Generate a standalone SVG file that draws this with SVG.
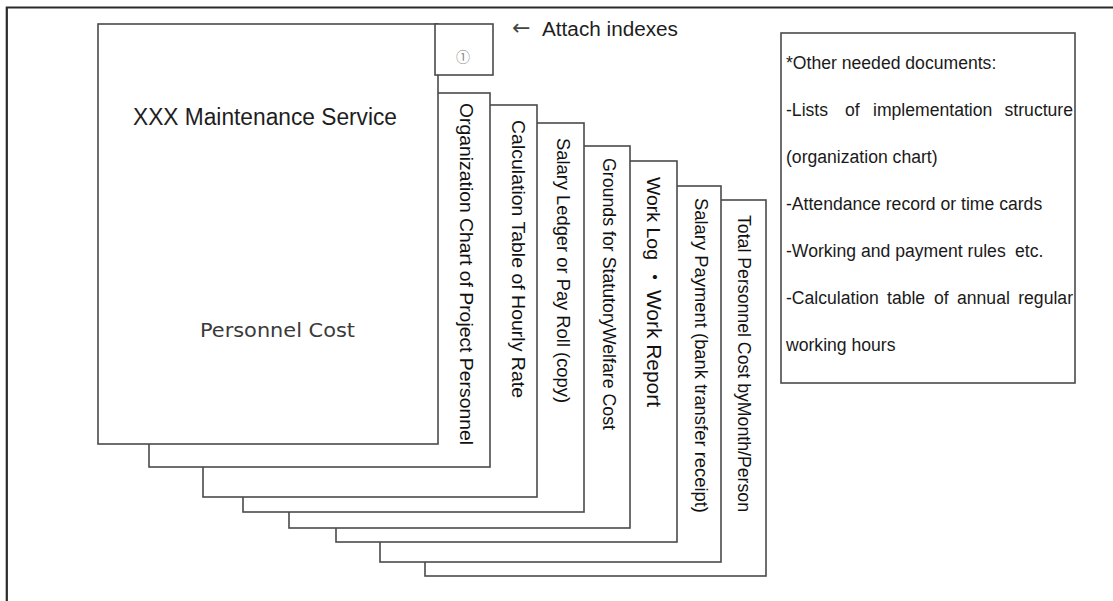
<svg xmlns="http://www.w3.org/2000/svg" width="1113" height="601" viewBox="0 0 1113 601">
<style>
.pg{fill:#fff;stroke:#4a4a4a;stroke-width:1.6}
.vt{font-family:"Liberation Sans",Arial,sans-serif;font-size:18.5px;fill:#111}
.bx{font-family:"Liberation Sans",Arial,sans-serif;font-size:17.6px;fill:#1a1a1a}
</style>
<rect width="1113" height="601" fill="#fff"/>
<g id="frame">
<path d="M6.8 601 V7.5 H1113" fill="none" stroke="#2a2a2a" stroke-width="2.2"/>
</g>
<g id="page-total">
<rect class="pg" x="425" y="200" width="341" height="376"/>
<text class="vt" transform="translate(737.5,0) rotate(90)" x="215" y="0" textLength="297" lengthAdjust="spacingAndGlyphs">Total Personnel Cost byMonth/Person</text>
</g>
<g id="page-payment">
<rect class="pg" x="380" y="186" width="341" height="376"/>
<text class="vt" transform="translate(694.5,0) rotate(90)" x="198" y="0" textLength="315" lengthAdjust="spacingAndGlyphs">Salary Payment (bank transfer receipt)</text>
</g>
<g id="page-worklog">
<rect class="pg" x="336" y="161" width="341" height="381"/>
<text class="vt" transform="translate(647,0) rotate(90)" y="0"><tspan x="177" textLength="83" lengthAdjust="spacingAndGlyphs">Work Log</tspan><tspan x="267" font-family="'Noto Sans CJK JP',sans-serif" font-size="20">・</tspan><tspan x="290" font-size="20.5" textLength="117" lengthAdjust="spacingAndGlyphs">Work Report</tspan></text>
</g>
<g id="page-grounds">
<rect class="pg" x="289" y="146" width="341" height="382"/>
<text class="vt" transform="translate(603,0) rotate(90)" x="158" y="0" textLength="272" lengthAdjust="spacingAndGlyphs">Grounds for StatutoryWelfare Cost</text>
</g>
<g id="page-ledger">
<rect class="pg" x="243" y="123" width="341" height="389"/>
<text class="vt" transform="translate(557,0) rotate(90)" x="138" y="0" textLength="265" lengthAdjust="spacingAndGlyphs">Salary Ledger or Pay Roll (copy)</text>
</g>
<g id="page-calc">
<rect class="pg" x="203" y="105" width="334" height="392"/>
<text class="vt" transform="translate(512,0) rotate(90)" x="120" y="0" font-size="19" textLength="278" lengthAdjust="spacingAndGlyphs">Calculation Table of Hourly Rate</text>
</g>
<g id="page-org">
<rect class="pg" x="149" y="93" width="341" height="374"/>
<text class="vt" transform="translate(459.5,0) rotate(90)" x="103" y="0" font-size="19" textLength="342" lengthAdjust="spacingAndGlyphs">Organization Chart of Project Personnel</text>
</g>
<g id="page-main">
<rect class="pg" x="98" y="24" width="340" height="420"/>
<text x="133" y="125" font-family="'Liberation Sans',Arial,sans-serif" font-size="23" fill="#1e1e1e" textLength="264" lengthAdjust="spacingAndGlyphs">XXX Maintenance Service</text>
<text x="200" y="336.5" font-family="'DejaVu Sans',Verdana,sans-serif" font-size="20" fill="#3a3a3a" textLength="155" lengthAdjust="spacingAndGlyphs">Personnel Cost</text>
</g>
<g id="index-tab">
<rect class="pg" x="435" y="24" width="58" height="51"/>
<text x="463" y="61.5" text-anchor="middle" font-family="'Noto Sans CJK JP',sans-serif" font-size="14" fill="#8a8a8a">①</text>
</g>
<g id="attach-label">
<text y="36" font-family="'Liberation Sans',Arial,sans-serif" font-size="20" fill="#1e1e1e"><tspan x="512" y="35" fill="#444" font-family="'DejaVu Sans',sans-serif" font-size="22">←</tspan><tspan x="542" y="36" textLength="136" lengthAdjust="spacingAndGlyphs">Attach indexes</tspan></text>
</g>
<g id="other-docs">
<rect x="781" y="33" width="294" height="350" fill="#fff" stroke="#4a4a4a" stroke-width="1.6"/>
<text class="bx" x="786" y="68.5">*Other needed documents:</text>
<text class="bx" y="115.5"><tspan x="786">-Lists</tspan><tspan x="845">of</tspan><tspan x="873">implementation</tspan><tspan x="1073" text-anchor="end">structure</tspan></text>
<text class="bx" x="786" y="162.5">(organization chart)</text>
<text class="bx" x="786" y="209.5">-Attendance record or time cards</text>
<text class="bx" y="256.5"><tspan x="786">-Working and payment rules</tspan><tspan x="1015">etc.</tspan></text>
<text class="bx" y="303.5"><tspan x="786">-Calculation</tspan><tspan x="887">table</tspan><tspan x="934">of</tspan><tspan x="957">annual</tspan><tspan x="1073" text-anchor="end">regular</tspan></text>
<text class="bx" x="786" y="350.5">working hours</text>
</g>
</svg>
